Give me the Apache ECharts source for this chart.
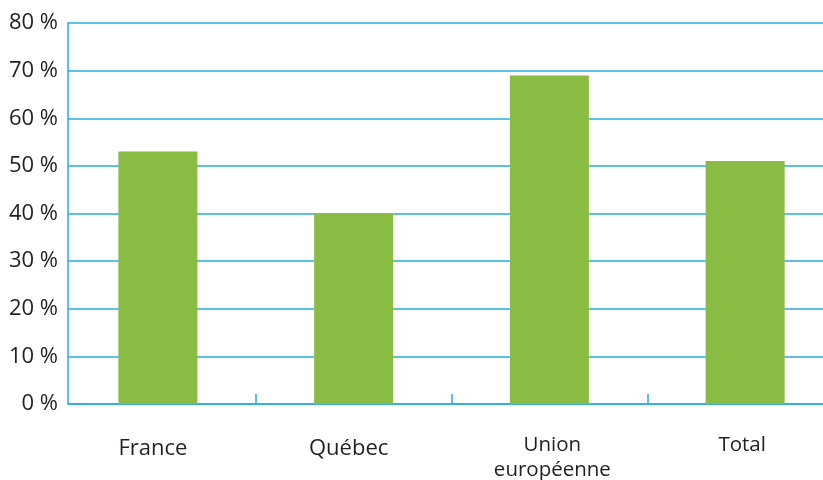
<!DOCTYPE html>
<html><head><meta charset="utf-8">
<script src="https://cdn.jsdelivr.net/npm/echarts@6/dist/echarts.min.js"></script>
<style>html,body{margin:0;padding:0;background:#fff}#c{width:823px;height:480px}</style>
</head><body><div id="c"></div>
<script>
const categories = ['France', 'Québec', 'Union\neuropéenne', 'Total'];
const values = [53, 40, 69, 51];
const yTicks = [0, 10, 20, 30, 40, 50, 60, 70, 80];

const chart = echarts.init(document.getElementById('c'), null, {renderer: 'canvas'});
const blue = '#29abe2';
const txt = '#231f20';
const labelStyle = ['a', 'a', 'b', 'c'];
chart.setOption({
  animation: false,
  grid: [
    {left: 60, top: 23, right: -20, height: 381, containLabel: false, outerBoundsMode: 'none'},
    {left: 68, top: 23, right: 0, height: 381, containLabel: false, outerBoundsMode: 'none'}
  ],
  xAxis: [{
    type: 'category', data: categories, gridIndex: 0,
    axisLine: {show: true, lineStyle: {color: blue, opacity: 0}},
    axisTick: {show: true, inside: true, length: 10, interval: (i) => i > 0, lineStyle: {color: blue, width: 1.5}},
    axisLabel: {
      margin: 28, interval: 0, color: txt, fontFamily: 'Open Sans',
      formatter: (v, i) => v.split('\n').map(s => '{' + labelStyle[i] + '|' + s + '}').join('\n'),
      rich: {
        a: {fontSize: 22, fontFamily: 'Open Sans', color: txt, lineHeight: 30, padding: [3, 10, 0, 0]},
        b: {fontSize: 20.5, fontFamily: 'Open Sans', color: txt, lineHeight: 25, padding: [1, 0, 0, 6]},
        c: {fontSize: 20.5, fontFamily: 'Open Sans', color: txt, lineHeight: 25, padding: [1, 6, 0, 0]}
      }
    }
  }, {
    type: 'value', gridIndex: 1, min: 0, max: 1,
    axisLine: {show: true, onZero: false, lineStyle: {color: blue, width: 1.5}},
    axisTick: {show: false}, axisLabel: {show: false}, splitLine: {show: false}
  }],
  yAxis: [{
    type: 'value', gridIndex: 0, min: yTicks[0], max: yTicks[yTicks.length - 1], interval: 10,
    show: false
  }, {
    type: 'value', gridIndex: 1, min: yTicks[0], max: yTicks[yTicks.length - 1], interval: 10,
    axisLine: {show: true, lineStyle: {color: blue, width: 1.5}},
    axisTick: {show: false},
    splitLine: {lineStyle: {color: blue, width: 1.5}},
    axisLabel: {margin: 10, color: txt, fontSize: 22, fontFamily: 'Open Sans', formatter: v => v + ' %'}
  }],
  series: [{
    type: 'bar', data: values, barWidth: 79, xAxisIndex: 0, yAxisIndex: 0, z: 3,
    itemStyle: {color: '#8abb42'}
  }]
});
</script></body></html>
